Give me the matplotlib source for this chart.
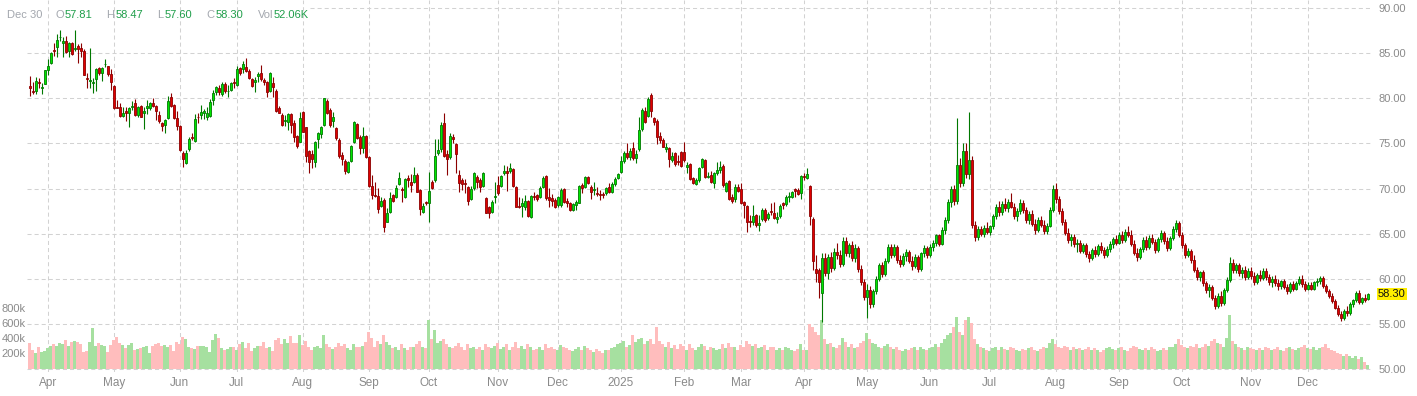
import matplotlib
matplotlib.use("Agg")
import matplotlib.pyplot as plt
from matplotlib.transforms import blended_transform_factory
import numpy as np

plt.rcParams['font.family'] = ['Liberation Sans', 'DejaVu Sans']

# ---------------- data (daily candles, 21 Mar 2024 .. 30 Dec 2025) ----------------
opens = [
81.36, 80.80, 80.84, 81.84, 81.17, 81.62, 83.09, 83.94, 85.35, 85.64,
86.75, 86.08, 86.38, 85.27, 86.16, 85.49, 85.75, 85.53, 85.20, 82.21,
81.95, 81.73, 82.10, 83.32, 82.76, 83.76, 83.54, 82.69, 81.36, 79.03,
78.99, 78.07, 78.59, 78.33, 79.03, 79.44, 78.18, 79.14, 78.40, 78.88,
78.88, 79.44, 79.14, 78.15, 77.22, 77.00, 77.78, 80.10, 79.25, 77.78,
76.93, 73.97, 72.86, 74.34, 75.67, 75.30, 77.96, 78.15, 78.33, 77.96,
78.07, 79.81, 80.73, 81.10, 80.47, 81.58, 80.77, 80.91, 81.80, 81.47,
83.32, 83.24, 83.43, 83.02, 82.10, 81.76, 82.50, 82.76, 82.02, 81.76,
80.84, 81.65, 80.84, 78.96, 78.14, 77.48, 77.40, 78.22, 77.22, 75.82,
75.19, 78.44, 76.78, 74.16, 73.82, 72.90, 75.45, 76.00, 77.04, 79.70,
78.70, 77.52, 76.67, 75.37, 73.71, 73.05, 71.86, 73.05, 75.12, 77.15,
75.74, 74.45, 75.82, 73.53, 70.31, 69.28, 69.17, 68.10, 68.73, 66.33,
67.43, 69.28, 69.10, 70.46, 69.94, 69.10, 71.13, 70.76, 70.76, 71.50,
69.83, 67.43, 68.54, 68.43, 70.72, 70.94, 73.97, 74.34, 77.22, 73.82,
73.45, 75.67, 74.93, 71.46, 70.94, 70.65, 70.13, 68.87, 70.02, 71.31,
70.94, 70.28, 68.91, 67.91, 67.43, 69.09, 70.39, 70.28, 71.68, 71.94,
71.94, 72.12, 70.13, 68.06, 68.06, 67.99, 68.61, 66.81, 69.17, 69.24,
69.02, 70.20, 71.38, 69.02, 68.91, 68.73, 68.17, 68.17, 69.91, 68.65,
68.36, 67.62, 68.17, 68.43, 70.39, 70.13, 71.31, 70.13, 69.83, 69.46,
69.39, 69.39, 69.54, 70.13, 69.65, 70.50, 71.13, 71.86, 73.08, 73.97,
73.45, 74.45, 73.34, 74.34, 76.56, 78.62, 78.03, 80.36, 77.77, 77.52,
75.82, 75.37, 74.34, 74.45, 73.16, 73.90, 73.05, 74.08, 74.08, 72.35,
72.71, 71.20, 70.50, 70.94, 72.42, 73.16, 71.31, 71.50, 70.65, 71.68,
72.05, 72.53, 69.76, 70.83, 69.09, 68.80, 70.20, 69.91, 68.47, 68.06,
66.40, 66.33, 67.06, 65.96, 66.62, 67.62, 66.70, 67.51, 67.25, 66.58,
66.95, 68.36, 68.25, 69.09, 69.09, 69.94, 69.83, 69.46, 71.39, 71.20,
70.28, 66.62, 61.08, 60.97, 58.38, 62.3, 60.6, 62.4, 61.2, 63.0,
62.6, 61.6, 64.2, 62.8, 63.7, 62.3, 63.4, 61.1, 59.6, 58.0,
58.8, 57.2, 58.6, 60.0, 61.5, 60.5, 62.0, 63.5, 62.6, 63.5,
62.1, 61.6, 62.5, 63.0, 62.0, 61.4, 62.4, 61.1, 62.8, 63.4,
62.6, 63.5, 64.0, 64.8, 63.9, 65.4, 66.5, 68.5, 70.0, 68.6,
72.6, 70.6, 74.2, 71.6, 73.2, 66.0, 64.6, 65.5, 65.0, 65.6,
65.2, 65.8, 67.0, 68.0, 67.4, 68.3, 67.8, 68.5, 68.0, 67.0,
67.5, 68.4, 67.6, 66.5, 67.2, 66.1, 65.4, 66.5, 66.0, 65.3,
65.9, 67.6, 70.0, 68.8, 67.5, 66.3, 65.1, 64.3, 64.6, 63.8,
64.0, 63.1, 63.7, 62.7, 62.3, 63.2, 62.7, 63.6, 63.2, 62.6,
63.3, 63.9, 64.4, 64.0, 64.9, 64.3, 65.2, 64.9, 63.9, 62.9,
62.4, 63.3, 64.3, 63.5, 64.5, 64.1, 63.2, 64.4, 65.1, 64.2,
63.4, 64.5, 65.5, 66.2, 64.9, 63.7, 62.6, 63.1, 62.1, 61.0,
60.2, 60.7, 59.5, 58.7, 59.1, 57.9, 57.0, 58.1, 57.3, 58.7,
59.9, 61.8, 61.0, 61.5, 60.6, 61.0, 60.2, 60.9, 60.3, 59.6,
60.4, 60.1, 60.9, 60.2, 59.6, 60.0, 59.5, 59.2, 59.7, 59.1,
58.6, 59.4, 58.9, 59.5, 60.0, 59.4, 58.9, 59.3, 58.9, 59.6,
59.8, 60.1, 59.2, 58.6, 58.1, 57.5, 56.8, 56.1, 55.6, 56.4,
56.2, 57.2, 57.6, 58.4, 57.4, 57.9, 57.81]

highs = [
82.47, 81.84, 82.39, 82.21, 81.65, 83.13, 84.31, 85.16, 86.16, 87.12,
87.56, 86.82, 86.90, 86.27, 86.27, 87.56, 86.01, 86.08, 85.42, 82.76,
85.57, 82.21, 83.32, 83.50, 83.50, 84.31, 83.57, 83.20, 81.47, 79.81,
79.44, 78.99, 78.99, 78.99, 79.70, 79.88, 79.14, 79.25, 79.07, 79.81,
79.62, 79.99, 79.25, 78.63, 77.41, 77.67, 80.25, 80.55, 79.36, 78.63,
77.04, 74.19, 74.27, 75.75, 76.11, 78.26, 78.33, 79.25, 78.77, 78.99,
79.88, 80.91, 81.36, 81.47, 81.84, 81.84, 81.47, 81.80, 82.21, 83.57,
83.50, 84.13, 84.42, 83.20, 82.21, 82.32, 82.95, 83.68, 82.21, 81.95,
82.95, 82.32, 80.99, 79.14, 78.33, 78.14, 78.33, 78.40, 77.59, 75.93,
78.51, 78.59, 76.85, 74.27, 74.27, 75.26, 76.30, 76.96, 80.06, 79.92,
78.96, 78.44, 76.85, 75.56, 74.08, 73.27, 73.05, 74.82, 77.48, 77.22,
75.93, 76.85, 75.93, 73.64, 71.50, 70.76, 70.02, 69.10, 68.91, 67.80,
69.65, 69.35, 70.39, 71.79, 70.20, 71.13, 71.50, 71.57, 72.42, 71.68,
69.94, 68.36, 68.61, 71.86, 70.94, 75.45, 75.45, 77.41, 78.33, 74.27,
76.11, 76.04, 75.08, 72.05, 71.13, 71.02, 70.28, 70.28, 71.86, 71.50,
71.13, 71.86, 69.02, 68.06, 68.73, 70.76, 71.38, 71.50, 72.60, 72.49,
72.86, 72.23, 70.28, 69.09, 68.91, 69.28, 68.73, 69.28, 69.65, 69.39,
70.28, 71.38, 71.50, 70.02, 69.39, 68.91, 69.17, 70.02, 70.02, 68.91,
68.54, 68.43, 68.73, 70.39, 70.65, 71.39, 71.39, 70.39, 70.76, 70.20,
69.83, 69.65, 70.20, 70.57, 70.76, 71.24, 71.75, 73.60, 74.19, 75.00,
74.45, 75.19, 74.26, 77.89, 78.88, 79.07, 80.18, 80.62, 77.96, 77.66,
76.30, 75.56, 75.08, 74.64, 74.08, 74.08, 73.71, 74.19, 75.19, 72.97,
72.86, 71.31, 71.13, 72.42, 73.42, 73.27, 71.87, 71.94, 71.87, 72.90,
73.05, 72.68, 70.76, 70.94, 69.35, 70.46, 70.46, 70.57, 68.62, 68.17,
67.06, 68.17, 67.14, 67.06, 67.80, 67.80, 67.43, 68.36, 68.47, 67.36,
68.25, 68.54, 69.28, 69.65, 69.72, 70.02, 70.02, 71.50, 71.68, 72.23,
70.39, 66.88, 62.63, 61.16, 62.82, 62.8, 62.7, 63.0, 63.4, 64.0,
63.2, 64.6, 64.6, 64.0, 64.2, 63.8, 63.6, 61.5, 60.0, 59.4,
59.2, 58.9, 60.3, 61.8, 61.9, 62.3, 63.8, 63.8, 63.8, 63.7,
62.6, 62.8, 63.3, 63.2, 62.5, 62.7, 62.6, 63.0, 63.7, 63.6,
63.8, 64.3, 65.0, 65.0, 65.7, 66.8, 68.8, 70.3, 70.4, 77.8,
73.4, 75.0, 75.0, 78.5, 73.6, 66.4, 65.8, 65.9, 66.0, 66.3,
66.0, 67.2, 68.3, 68.6, 68.6, 69.0, 68.8, 69.5, 68.4, 67.8,
68.8, 68.7, 68.0, 67.5, 67.6, 66.6, 66.8, 67.0, 66.5, 66.2,
68.0, 70.4, 70.6, 69.2, 67.8, 66.6, 65.6, 65.0, 65.0, 64.4,
64.3, 64.0, 64.0, 63.1, 63.4, 63.6, 63.8, 64.1, 63.5, 63.6,
64.2, 64.6, 64.8, 65.2, 65.3, 65.5, 65.8, 65.4, 64.3, 63.4,
63.5, 64.6, 64.7, 64.8, 65.0, 64.4, 64.6, 65.4, 65.3, 64.6,
64.7, 65.8, 66.5, 66.4, 65.2, 64.0, 63.4, 63.3, 62.6, 61.3,
60.9, 61.0, 59.8, 59.4, 59.3, 58.2, 58.4, 58.6, 59.0, 60.2,
62.4, 62.2, 61.8, 61.8, 61.3, 61.4, 61.2, 61.3, 60.7, 60.6,
61.0, 61.2, 61.2, 60.5, 60.3, 60.4, 60.0, 59.9, 60.0, 59.4,
59.6, 59.8, 59.7, 60.3, 60.4, 59.8, 59.6, 59.6, 59.7, 60.1,
60.3, 60.3, 59.4, 58.9, 58.4, 57.8, 57.1, 56.4, 56.6, 57.0,
57.4, 57.8, 58.6, 58.8, 58.0, 58.3, 58.47]

lows = [
80.25, 80.47, 80.47, 81.10, 80.47, 81.54, 82.58, 83.83, 84.68, 84.61,
86.38, 84.61, 85.05, 84.53, 84.83, 85.27, 83.94, 84.61, 82.54, 81.10,
81.10, 80.62, 80.84, 82.58, 81.95, 83.43, 82.47, 80.91, 78.77, 78.88,
77.96, 77.89, 77.52, 76.85, 78.70, 78.07, 77.96, 77.89, 76.63, 78.22,
78.70, 79.07, 77.59, 77.22, 76.41, 76.11, 77.67, 78.99, 77.67, 76.48,
74.19, 72.42, 72.72, 74.19, 75.38, 75.19, 77.22, 77.70, 77.67, 77.59,
77.96, 79.25, 80.36, 80.36, 80.25, 80.62, 80.18, 80.80, 81.10, 81.36,
82.58, 82.83, 82.95, 82.10, 81.28, 80.73, 81.84, 81.95, 81.47, 80.17,
80.73, 80.17, 78.44, 78.33, 76.93, 76.93, 76.48, 76.19, 75.19, 74.52,
75.12, 76.22, 72.97, 71.68, 72.23, 72.42, 74.52, 75.56, 76.96, 78.22,
76.85, 76.85, 75.37, 73.42, 72.60, 71.57, 71.68, 72.90, 75.00, 75.45,
73.79, 73.90, 73.42, 70.20, 68.84, 69.10, 67.25, 67.99, 65.22, 66.25,
67.25, 68.47, 68.91, 70.39, 68.54, 68.98, 70.20, 69.65, 70.57, 69.57,
67.06, 67.25, 68.17, 66.32, 69.91, 70.76, 73.71, 74.08, 73.53, 71.50,
73.23, 75.00, 71.75, 69.65, 69.83, 69.46, 68.17, 68.73, 69.83, 70.02,
69.65, 70.13, 67.25, 66.69, 67.32, 68.43, 69.28, 70.13, 71.50, 69.76,
71.75, 70.13, 67.91, 67.80, 66.88, 67.62, 66.88, 66.69, 68.73, 68.65,
68.91, 70.02, 68.73, 67.99, 68.06, 67.80, 67.91, 67.99, 68.36, 67.99,
67.54, 67.54, 67.62, 68.36, 69.46, 70.02, 70.50, 68.80, 69.28, 69.17,
68.73, 68.91, 69.28, 69.54, 69.46, 70.28, 71.01, 71.75, 72.86, 73.23,
73.16, 73.16, 72.86, 74.19, 76.41, 77.29, 77.89, 77.89, 77.04, 74.93,
75.00, 74.56, 74.08, 72.35, 72.97, 72.49, 72.60, 72.42, 72.97, 71.68,
70.94, 70.46, 70.39, 70.76, 72.23, 71.20, 71.13, 70.57, 70.09, 71.50,
71.68, 70.20, 69.65, 68.73, 68.36, 68.54, 69.58, 68.25, 66.77, 65.22,
65.77, 65.96, 65.77, 65.29, 66.40, 66.33, 66.51, 67.06, 66.62, 66.14,
66.77, 67.73, 68.10, 68.54, 68.91, 69.09, 69.28, 68.84, 70.94, 71.05,
65.96, 60.97, 59.68, 57.83, 55.25, 60.3, 60.0, 60.8, 61.0, 62.2,
61.3, 61.4, 62.5, 62.4, 62.0, 61.9, 60.8, 59.3, 57.6, 55.6,
56.8, 56.9, 58.3, 59.7, 60.2, 60.3, 61.8, 62.3, 62.4, 61.8,
61.3, 61.4, 62.0, 61.8, 61.0, 61.2, 60.8, 60.9, 62.4, 62.3,
62.4, 63.1, 63.6, 63.6, 63.7, 65.0, 66.2, 68.0, 68.2, 68.3,
70.2, 70.3, 71.2, 71.0, 65.6, 64.2, 64.3, 64.7, 64.6, 65.0,
64.8, 65.5, 66.6, 67.0, 67.1, 67.5, 67.4, 67.8, 66.6, 66.4,
67.2, 67.3, 66.2, 66.1, 65.9, 65.0, 65.2, 65.7, 65.0, 65.0,
65.7, 67.4, 68.4, 67.2, 66.0, 64.8, 64.0, 63.6, 63.5, 63.0,
62.8, 62.9, 62.4, 61.9, 62.1, 62.4, 62.5, 62.9, 62.3, 62.4,
63.0, 63.4, 63.7, 63.8, 64.0, 64.1, 64.6, 63.6, 62.6, 62.0,
62.2, 63.0, 63.2, 63.3, 63.8, 62.9, 63.0, 64.1, 63.9, 63.1,
63.2, 64.3, 65.2, 64.6, 63.4, 62.3, 62.4, 61.8, 60.7, 59.9,
59.8, 59.2, 58.4, 58.0, 57.6, 56.6, 56.8, 57.0, 57.1, 58.5,
59.6, 60.6, 60.6, 60.3, 60.1, 59.9, 60.0, 60.0, 59.3, 59.4,
59.8, 59.9, 59.9, 59.3, 59.1, 59.2, 58.8, 58.9, 58.9, 58.3,
58.4, 58.6, 58.7, 59.3, 59.1, 58.6, 58.7, 58.7, 58.8, 59.2,
59.4, 59.0, 58.4, 57.9, 57.3, 56.6, 55.9, 55.3, 55.4, 55.9,
56.0, 56.9, 57.4, 57.2, 57.2, 57.4, 57.60]

closes = [
81.10, 80.66, 81.91, 81.65, 81.25, 83.09, 83.57, 84.98, 85.27, 86.45,
86.82, 86.31, 85.16, 86.08, 84.90, 85.57, 85.42, 85.27, 82.61, 82.10,
82.06, 81.80, 83.20, 82.76, 83.39, 83.83, 82.65, 81.84, 78.96, 78.96,
78.07, 78.33, 78.33, 78.88, 79.10, 78.18, 78.99, 77.96, 78.63, 79.14,
79.44, 79.18, 78.63, 77.52, 76.93, 77.59, 79.70, 79.14, 77.85, 76.93,
74.27, 73.23, 73.97, 75.45, 75.56, 77.67, 77.89, 78.44, 78.63, 78.33,
79.62, 80.62, 81.21, 80.73, 81.58, 80.84, 80.84, 81.73, 81.65, 83.20,
82.76, 83.76, 83.06, 82.28, 81.39, 82.02, 82.65, 82.13, 81.84, 80.73,
82.76, 81.28, 78.59, 78.40, 77.00, 77.59, 78.22, 77.04, 75.74, 74.75,
77.77, 76.30, 73.60, 72.90, 73.27, 75.12, 76.11, 76.78, 79.99, 78.33,
77.04, 77.96, 75.56, 73.64, 73.27, 71.94, 72.90, 74.71, 77.33, 75.56,
74.52, 75.82, 73.53, 70.31, 69.28, 69.17, 67.73, 68.61, 65.77, 67.25,
68.91, 68.61, 70.02, 71.13, 69.83, 71.02, 70.94, 70.39, 71.50, 69.65,
67.73, 68.10, 68.36, 69.72, 70.09, 73.60, 74.27, 77.04, 73.60, 73.23,
75.82, 75.52, 73.79, 70.57, 70.50, 70.53, 68.65, 69.98, 71.68, 70.76,
70.20, 71.75, 67.32, 67.25, 68.47, 69.17, 69.46, 71.38, 71.94, 71.68,
72.23, 70.28, 67.99, 67.99, 68.36, 68.65, 66.99, 69.17, 69.09, 68.80,
70.09, 71.13, 68.91, 68.73, 68.65, 67.99, 69.02, 69.83, 68.54, 68.36,
67.62, 68.28, 68.54, 70.28, 70.02, 71.24, 70.65, 69.65, 69.94, 69.35,
69.24, 69.28, 70.02, 69.65, 70.50, 71.01, 71.57, 73.05, 73.90, 73.53,
74.19, 73.34, 73.82, 76.48, 78.70, 77.40, 79.92, 78.62, 77.40, 75.74,
75.37, 74.64, 74.64, 73.23, 73.60, 72.71, 72.90, 72.53, 73.16, 72.60,
71.01, 70.57, 70.94, 72.31, 73.27, 71.31, 71.39, 70.76, 71.68, 72.05,
72.42, 70.39, 70.57, 68.84, 68.65, 70.20, 69.72, 68.36, 68.17, 66.33,
66.33, 66.95, 65.96, 66.21, 67.62, 66.51, 67.14, 67.36, 66.77, 66.88,
68.06, 68.17, 69.09, 69.17, 69.58, 69.72, 69.35, 71.39, 71.24, 71.57,
66.99, 61.97, 60.67, 59.60, 62.26, 60.6, 62.4, 61.2, 63.0, 62.6,
61.6, 64.2, 62.8, 63.7, 62.3, 63.4, 61.1, 59.6, 58.0, 58.8,
57.2, 58.6, 60.0, 61.5, 60.5, 62.0, 63.5, 62.6, 63.5, 62.1,
61.6, 62.5, 63.0, 62.0, 61.4, 62.4, 61.1, 62.8, 63.4, 62.6,
63.5, 64.0, 64.8, 63.9, 65.4, 66.5, 68.5, 70.0, 68.6, 72.6,
70.6, 74.2, 71.6, 73.2, 66.0, 64.6, 65.5, 65.0, 65.6, 65.2,
65.8, 67.0, 68.0, 67.4, 68.3, 67.8, 68.5, 68.0, 67.0, 67.5,
68.4, 67.6, 66.5, 67.2, 66.1, 65.4, 66.5, 66.0, 65.3, 65.9,
67.6, 70.0, 68.8, 67.5, 66.3, 65.1, 64.3, 64.6, 63.8, 64.0,
63.1, 63.7, 62.7, 62.3, 63.2, 62.7, 63.6, 63.2, 62.6, 63.3,
63.9, 64.4, 64.0, 64.9, 64.3, 65.2, 64.9, 63.9, 62.9, 62.4,
63.3, 64.3, 63.5, 64.5, 64.1, 63.2, 64.4, 65.1, 64.2, 63.4,
64.5, 65.5, 66.2, 64.9, 63.7, 62.6, 63.1, 62.1, 61.0, 60.2,
60.7, 59.5, 58.7, 59.1, 57.9, 57.0, 58.1, 57.3, 58.7, 59.9,
61.8, 61.0, 61.5, 60.6, 61.0, 60.2, 60.9, 60.3, 59.6, 60.4,
60.1, 60.9, 60.2, 59.6, 60.0, 59.5, 59.2, 59.7, 59.1, 58.6,
59.4, 58.9, 59.5, 60.0, 59.4, 58.9, 59.3, 58.9, 59.6, 59.8,
60.1, 59.2, 58.6, 58.1, 57.5, 56.8, 56.1, 55.6, 56.4, 56.2,
57.2, 57.6, 58.4, 57.4, 57.9, 57.6, 58.30]

volumes_k = [
342, 253, 218, 289, 231, 240, 275, 306, 329, 306,
342, 333, 386, 306, 364, 373, 360, 333, 226, 240,
355, 542, 306, 342, 320, 306, 226, 320, 386, 422,
351, 320, 275, 320, 351, 253, 266, 275, 289, 306,
218, 306, 333, 351, 306, 320, 289, 320, 240, 355,
333, 422, 404, 289, 284, 262, 306, 306, 306, 298,
231, 386, 466, 418, 275, 253, 262, 298, 298, 253,
329, 355, 275, 346, 244, 275, 311, 306, 355, 284,
293, 240, 386, 409, 333, 400, 351, 440, 351, 351,
453, 320, 380, 300, 260, 290, 310, 280, 450, 330,
300, 270, 290, 350, 310, 330, 280, 260, 340, 300,
290, 310, 360, 500, 420, 300, 380, 330, 450, 360,
320, 280, 300, 260, 330, 280, 250, 300, 290, 340,
380, 300, 280, 650, 400, 520, 350, 380, 400, 330,
300, 280, 310, 350, 300, 260, 330, 280, 300, 270,
290, 260, 340, 300, 280, 310, 350, 270, 290, 330,
260, 300, 360, 280, 310, 270, 330, 300, 250, 270,
290, 260, 340, 280, 300, 270, 250, 320, 300, 280,
260, 240, 270, 300, 260, 310, 280, 250, 230, 270,
240, 220, 260, 250, 280, 300, 330, 350, 380, 300,
320, 450, 360, 400, 420, 330, 380, 400, 340, 560,
380, 330, 300, 360, 280, 320, 270, 340, 310, 260,
330, 280, 250, 300, 330, 310, 260, 290, 280, 250,
270, 330, 280, 350, 300, 290, 260, 320, 300, 380,
340, 310, 330, 280, 300, 320, 260, 290, 300, 250,
280, 260, 300, 280, 250, 240, 270, 330, 260, 250,
600, 560, 500, 450, 650, 400, 330, 350, 300, 280,
320, 420, 360, 300, 330, 280, 300, 350, 380, 480,
400, 350, 330, 300, 280, 310, 330, 300, 270, 290,
260, 240, 270, 250, 280, 300, 260, 290, 270, 250,
280, 300, 330, 290, 350, 400, 450, 480, 560, 700,
500, 450, 650, 700, 620, 400, 330, 300, 280, 260,
240, 280, 300, 260, 290, 270, 250, 300, 280, 260,
240, 270, 250, 280, 300, 260, 240, 270, 300, 280,
350, 400, 330, 300, 280, 310, 290, 260, 300, 270,
280, 250, 270, 300, 260, 280, 250, 230, 260, 280,
300, 270, 250, 280, 300, 260, 240, 280, 310, 300,
270, 260, 280, 250, 300, 270, 240, 260, 280, 250,
290, 300, 330, 400, 320, 300, 280, 310, 300, 330,
280, 300, 330, 310, 380, 400, 350, 330, 300, 420,
720, 380, 330, 300, 280, 260, 300, 280, 270, 250,
280, 260, 300, 280, 250, 270, 300, 260, 240, 280,
300, 270, 250, 280, 300, 320, 280, 270, 300, 260,
280, 300, 330, 280, 260, 240, 220, 200, 180, 200,
170, 150, 180, 130, 160, 90, 52.06]

month_labels = ["Apr", "May", "Jun", "Jul", "Aug", "Sep", "Oct", "Nov", "Dec", "2025",
                "Feb", "Mar", "Apr", "May", "Jun", "Jul", "Aug", "Sep", "Oct", "Nov", "Dec"]
month_start_idx = [6, 28, 50, 69, 91, 113, 133, 156, 176, 197,
                   218, 237, 258, 279, 300, 320, 342, 363, 384, 407, 426]
price_ticks = [50, 55, 60, 65, 70, 75, 80, 85, 90]
vol_ticks_k = [200, 400, 600, 800]
last_date_label = "Dec 30"

# ---------------- figure ----------------
W, H = 1417, 396
fig = plt.figure(figsize=(W / 100, H / 100), dpi=100)
L_PX, R_PX, T_PX, B_PX = 27, 1372, 0, 372
ax = fig.add_axes([L_PX / W, 1 - B_PX / H, (R_PX - L_PX) / W, (B_PX - T_PX) / H])
axp = ax.twinx()

n = min(len(opens), len(highs), len(lows), len(closes), len(volumes_k))
O = np.array(opens[:n]); Hh = np.array(highs[:n]); Lo = np.array(lows[:n]); C = np.array(closes[:n])
V = np.array(volumes_k[:n]) * 1000.0
x = np.arange(n)
up = C >= O

ax.set_xlim(-0.9, 447.4)
ax.set_ylim(-40000, 4920000)
axp.set_ylim(49.67, 90.886)

for a in (ax, axp):
    for s in a.spines.values():
        s.set_visible(False)

GRID = '#d2d2d2'
dash = (0, (3.9, 2.9))
for i in month_start_idx:
    ax.axvline(i, color=GRID, lw=0.75, ls=dash, zorder=0)
btf = blended_transform_factory(ax.transAxes, axp.transData)
for p in price_ticks:
    x0 = (310 - L_PX) / (R_PX - L_PX) if p == 90 else 0.0
    ax.plot([x0, 1.0], [p, p], transform=btf, color=GRID, lw=0.75, ls=dash, zorder=0)

# volume bars
vcol = np.where(up, '#a6e0a0', '#ffbdbd')
ax.bar(x, V, width=1.0, color=vcol, linewidth=0, zorder=1)

# candles
GE, GF = '#007800', '#00e600'
RE, RF = '#8c0000', '#e00000'
bb = np.minimum(O, C)
bh = np.maximum(np.abs(C - O), 0.07)
axp.vlines(x[up], Lo[up], Hh[up], color=GE, lw=0.8, zorder=3)
axp.vlines(x[~up], Lo[~up], Hh[~up], color=RE, lw=0.8, zorder=3)
axp.bar(x[up], bh[up], bottom=bb[up], width=0.78, color=GF, edgecolor=GE, linewidth=0.6, zorder=4)
axp.bar(x[~up], bh[~up], bottom=bb[~up], width=0.78, color=RF, edgecolor=RE, linewidth=0.6, zorder=4)

TICKC = '#8a8a8a'
ax.set_xticks(month_start_idx)
ax.set_xticklabels(month_labels)
ax.tick_params(axis='x', length=0, pad=3.5, labelsize=8.5, labelcolor=TICKC)
ax.set_yticks([])
axp.set_yticks(price_ticks)
axp.set_yticklabels([f"{p:.2f}" for p in price_ticks])
axp.tick_params(axis='y', length=0, pad=4.5, labelsize=8, labelcolor=TICKC)

vtf = blended_transform_factory(ax.transAxes, ax.transData)
for vk in vol_ticks_k:
    ax.text(-0.0008, vk * 1000, f"{vk}k", transform=vtf, ha='right', va='center',
            fontsize=8, color=TICKC, clip_on=False)

ptf = blended_transform_factory(axp.transAxes, axp.transData)
axp.annotate(f"{C[-1]:.2f}", xy=(1.0, C[-1]), xycoords=ptf, xytext=(4.3, 0),
             textcoords='offset points', ha='left', va='center', fontsize=8, color='#111111',
             bbox=dict(boxstyle='square,pad=0.12', facecolor='#ffee00', edgecolor='none'),
             annotation_clip=False)

LG, LV = '#a3a7ae', '#1f9e4a'
yl = 1 - 14.5 / H
items = [(last_date_label, 7, LG), ("O", 55, LG), (f"{O[-1]:.2f}", 64.5, LV),
         ("H", 106.5, LG), (f"{Hh[-1]:.2f}", 115.5, LV),
         ("L", 157.5, LG), (f"{Lo[-1]:.2f}", 164.5, LV),
         ("C", 206.5, LG), (f"{C[-1]:.2f}", 215.5, LV),
         ("Vol", 257.5, LG), (f"{V[-1] / 1000:.2f}K", 274, LV)]
for txt, px, col in items:
    fig.text(px / W, yl, txt, ha='left', va='center', fontsize=8, color=col)

fig.savefig("out.png", dpi=100)
